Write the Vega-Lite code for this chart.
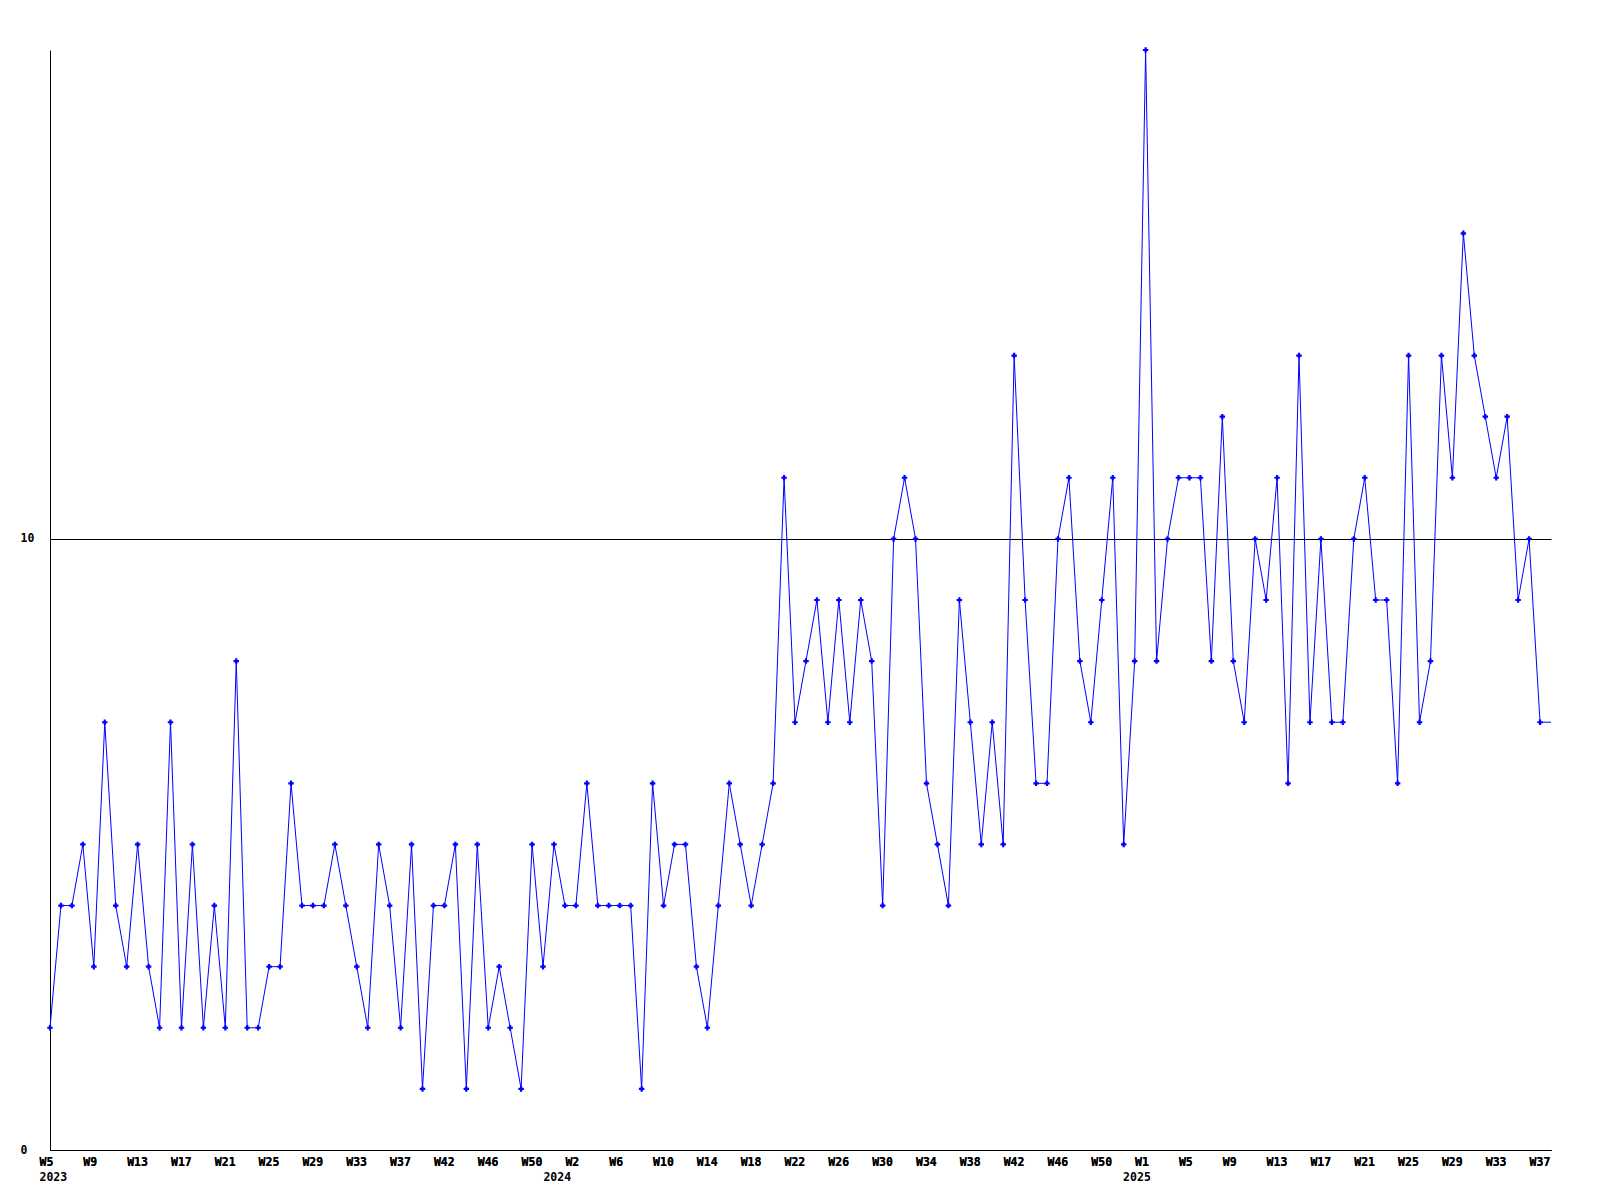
{
  "$schema": "https://vega.github.io/schema/vega-lite/v6.json",
  "width": 1501,
  "height": 1100,
  "autosize": {"type": "none"},
  "padding": {"left": 50, "top": 50, "right": 49, "bottom": 50},
  "background": "white",
  "config": {
    "view": {"stroke": null},
    "font": "DejaVu Sans Mono",
    "axis": {"labelFont": "DejaVu Sans Mono", "labelFontWeight": "bold", "labelFontSize": 11.5, "labelColor": "black", "domainColor": "black", "domainWidth": 1, "gridColor": "black", "gridOpacity": 1, "gridWidth": 1, "ticks": false, "tickSize": 0, "title": null}
  },
  "data": {"values": [
    {"week": "2023-W05", "count": 2}, {"week": "2023-W06", "count": 4}, {"week": "2023-W07", "count": 4}, {"week": "2023-W08", "count": 5},
    {"week": "2023-W09", "count": 3}, {"week": "2023-W10", "count": 7}, {"week": "2023-W11", "count": 4}, {"week": "2023-W12", "count": 3},
    {"week": "2023-W13", "count": 5}, {"week": "2023-W14", "count": 3}, {"week": "2023-W15", "count": 2}, {"week": "2023-W16", "count": 7},
    {"week": "2023-W17", "count": 2}, {"week": "2023-W18", "count": 5}, {"week": "2023-W19", "count": 2}, {"week": "2023-W20", "count": 4},
    {"week": "2023-W21", "count": 2}, {"week": "2023-W22", "count": 8}, {"week": "2023-W23", "count": 2}, {"week": "2023-W24", "count": 2},
    {"week": "2023-W25", "count": 3}, {"week": "2023-W26", "count": 3}, {"week": "2023-W27", "count": 6}, {"week": "2023-W28", "count": 4},
    {"week": "2023-W29", "count": 4}, {"week": "2023-W30", "count": 4}, {"week": "2023-W31", "count": 5}, {"week": "2023-W32", "count": 4},
    {"week": "2023-W33", "count": 3}, {"week": "2023-W34", "count": 2}, {"week": "2023-W35", "count": 5}, {"week": "2023-W36", "count": 4},
    {"week": "2023-W37", "count": 2}, {"week": "2023-W38", "count": 5}, {"week": "2023-W39", "count": 1}, {"week": "2023-W40", "count": 4},
    {"week": "2023-W41", "count": 4}, {"week": "2023-W42", "count": 5}, {"week": "2023-W43", "count": 1}, {"week": "2023-W44", "count": 5},
    {"week": "2023-W45", "count": 2}, {"week": "2023-W46", "count": 3}, {"week": "2023-W47", "count": 2}, {"week": "2023-W48", "count": 1},
    {"week": "2023-W49", "count": 5}, {"week": "2023-W50", "count": 3}, {"week": "2023-W51", "count": 5}, {"week": "2023-W52", "count": 4},
    {"week": "2024-W01", "count": 4}, {"week": "2024-W02", "count": 6}, {"week": "2024-W03", "count": 4}, {"week": "2024-W04", "count": 4},
    {"week": "2024-W05", "count": 4}, {"week": "2024-W06", "count": 4}, {"week": "2024-W07", "count": 1}, {"week": "2024-W08", "count": 6},
    {"week": "2024-W09", "count": 4}, {"week": "2024-W10", "count": 5}, {"week": "2024-W11", "count": 5}, {"week": "2024-W12", "count": 3},
    {"week": "2024-W13", "count": 2}, {"week": "2024-W14", "count": 4}, {"week": "2024-W15", "count": 6}, {"week": "2024-W16", "count": 5},
    {"week": "2024-W17", "count": 4}, {"week": "2024-W18", "count": 5}, {"week": "2024-W19", "count": 6}, {"week": "2024-W20", "count": 11},
    {"week": "2024-W21", "count": 7}, {"week": "2024-W22", "count": 8}, {"week": "2024-W23", "count": 9}, {"week": "2024-W24", "count": 7},
    {"week": "2024-W25", "count": 9}, {"week": "2024-W26", "count": 7}, {"week": "2024-W27", "count": 9}, {"week": "2024-W28", "count": 8},
    {"week": "2024-W29", "count": 4}, {"week": "2024-W30", "count": 10}, {"week": "2024-W31", "count": 11}, {"week": "2024-W32", "count": 10},
    {"week": "2024-W33", "count": 6}, {"week": "2024-W34", "count": 5}, {"week": "2024-W35", "count": 4}, {"week": "2024-W36", "count": 9},
    {"week": "2024-W37", "count": 7}, {"week": "2024-W38", "count": 5}, {"week": "2024-W39", "count": 7}, {"week": "2024-W40", "count": 5},
    {"week": "2024-W41", "count": 13}, {"week": "2024-W42", "count": 9}, {"week": "2024-W43", "count": 6}, {"week": "2024-W44", "count": 6},
    {"week": "2024-W45", "count": 10}, {"week": "2024-W46", "count": 11}, {"week": "2024-W47", "count": 8}, {"week": "2024-W48", "count": 7},
    {"week": "2024-W49", "count": 9}, {"week": "2024-W50", "count": 11}, {"week": "2024-W51", "count": 5}, {"week": "2024-W52", "count": 8},
    {"week": "2025-W01", "count": 18}, {"week": "2025-W02", "count": 8}, {"week": "2025-W03", "count": 10}, {"week": "2025-W04", "count": 11},
    {"week": "2025-W05", "count": 11}, {"week": "2025-W06", "count": 11}, {"week": "2025-W07", "count": 8}, {"week": "2025-W08", "count": 12},
    {"week": "2025-W09", "count": 8}, {"week": "2025-W10", "count": 7}, {"week": "2025-W11", "count": 10}, {"week": "2025-W12", "count": 9},
    {"week": "2025-W13", "count": 11}, {"week": "2025-W14", "count": 6}, {"week": "2025-W15", "count": 13}, {"week": "2025-W16", "count": 7},
    {"week": "2025-W17", "count": 10}, {"week": "2025-W18", "count": 7}, {"week": "2025-W19", "count": 7}, {"week": "2025-W20", "count": 10},
    {"week": "2025-W21", "count": 11}, {"week": "2025-W22", "count": 9}, {"week": "2025-W23", "count": 9}, {"week": "2025-W24", "count": 6},
    {"week": "2025-W25", "count": 13}, {"week": "2025-W26", "count": 7}, {"week": "2025-W27", "count": 8}, {"week": "2025-W28", "count": 13},
    {"week": "2025-W29", "count": 11}, {"week": "2025-W30", "count": 15}, {"week": "2025-W31", "count": 13}, {"week": "2025-W32", "count": 12},
    {"week": "2025-W33", "count": 11}, {"week": "2025-W34", "count": 12}, {"week": "2025-W35", "count": 9}, {"week": "2025-W36", "count": 10},
    {"week": "2025-W37", "count": 7}, {"week": "2025-W38", "count": 7}
  ]},
  "encoding": {
    "x": {
      "field": "week", "type": "ordinal",
      "scale": {"type": "point", "padding": 0},
      "axis": {
        "orient": "bottom",
        "values": ["2023-W05","2023-W09","2023-W13","2023-W17","2023-W21","2023-W25","2023-W29","2023-W33","2023-W37","2023-W41","2023-W45","2023-W49","2024-W01","2024-W05","2024-W09","2024-W13","2024-W17","2024-W21","2024-W25","2024-W29","2024-W33","2024-W37","2024-W41","2024-W45","2024-W49","2025-W01","2025-W05","2025-W09","2025-W13","2025-W17","2025-W21","2025-W25","2025-W29","2025-W33","2025-W37"],
        "labelExpr": "['W5','W9','W13','W17','W21','W25','W29','W33','W37','W42','W46','W50','W2','W6','W10','W14','W18','W22','W26','W30','W34','W38','W42','W46','W50','W1','W5','W9','W13','W17','W21','W25','W29','W33','W37'][indexof(['2023-W05','2023-W09','2023-W13','2023-W17','2023-W21','2023-W25','2023-W29','2023-W33','2023-W37','2023-W41','2023-W45','2023-W49','2024-W01','2024-W05','2024-W09','2024-W13','2024-W17','2024-W21','2024-W25','2024-W29','2024-W33','2024-W37','2024-W41','2024-W45','2024-W49','2025-W01','2025-W05','2025-W09','2025-W13','2025-W17','2025-W21','2025-W25','2025-W29','2025-W33','2025-W37'], datum.value)]",
        "labelAngle": 0,
        "labelAlign": "left",
        "labelBaseline": "top",
        "labelOffset": -11,
        "labelPadding": 6,
        "labelOverlap": false,
        "labelFlush": false,
        "grid": false,
        "domain": true
      }
    },
    "y": {
      "field": "count", "type": "quantitative",
      "scale": {"domain": [0, 18], "nice": false, "zero": true},
      "axis": {
        "values": [0, 10],
        "grid": true,
        "labelAlign": "left",
        "labelBaseline": "middle",
        "labelPadding": 30,
        "labelFlush": false,
        "labelOverlap": false,
        "domain": true
      }
    }
  },
  "layer": [
    {"mark": {"type": "line", "color": "#0000ff", "strokeWidth": 1, "interpolate": "linear"}},
    {
      "transform": [{"filter": "datum.week != '2025-W38'"}],
      "mark": {"type": "point", "shape": "cross", "filled": true, "size": 30, "color": "#0000ff", "opacity": 1}
    },
    {
      "mark": {"type": "point", "opacity": 0, "size": 0},
      "encoding": {
        "x": {
          "field": "week", "type": "ordinal",
          "scale": {"type": "point", "padding": 0},
          "axis": {
            "orient": "bottom",
            "values": ["2023-W05", "2024-W01", "2025-W01"],
            "labelExpr": "datum.value == '2023-W05' ? '2023' : datum.value == '2024-W01' ? '2024' : '2025'",
            "labelAngle": 0,
            "labelAlign": "left",
            "labelBaseline": "top",
            "labelOffset": {"condition": [{"test": "datum.value == '2024-W01'", "value": -33}, {"test": "datum.value == '2025-W01'", "value": -23}], "value": -11},
            "labelPadding": 21.5,
            "labelOverlap": false,
            "labelFlush": false,
            "grid": false,
            "domain": false
          }
        }
      }
    }
  ],
  "resolve": {"axis": {"x": "independent"}}
}
